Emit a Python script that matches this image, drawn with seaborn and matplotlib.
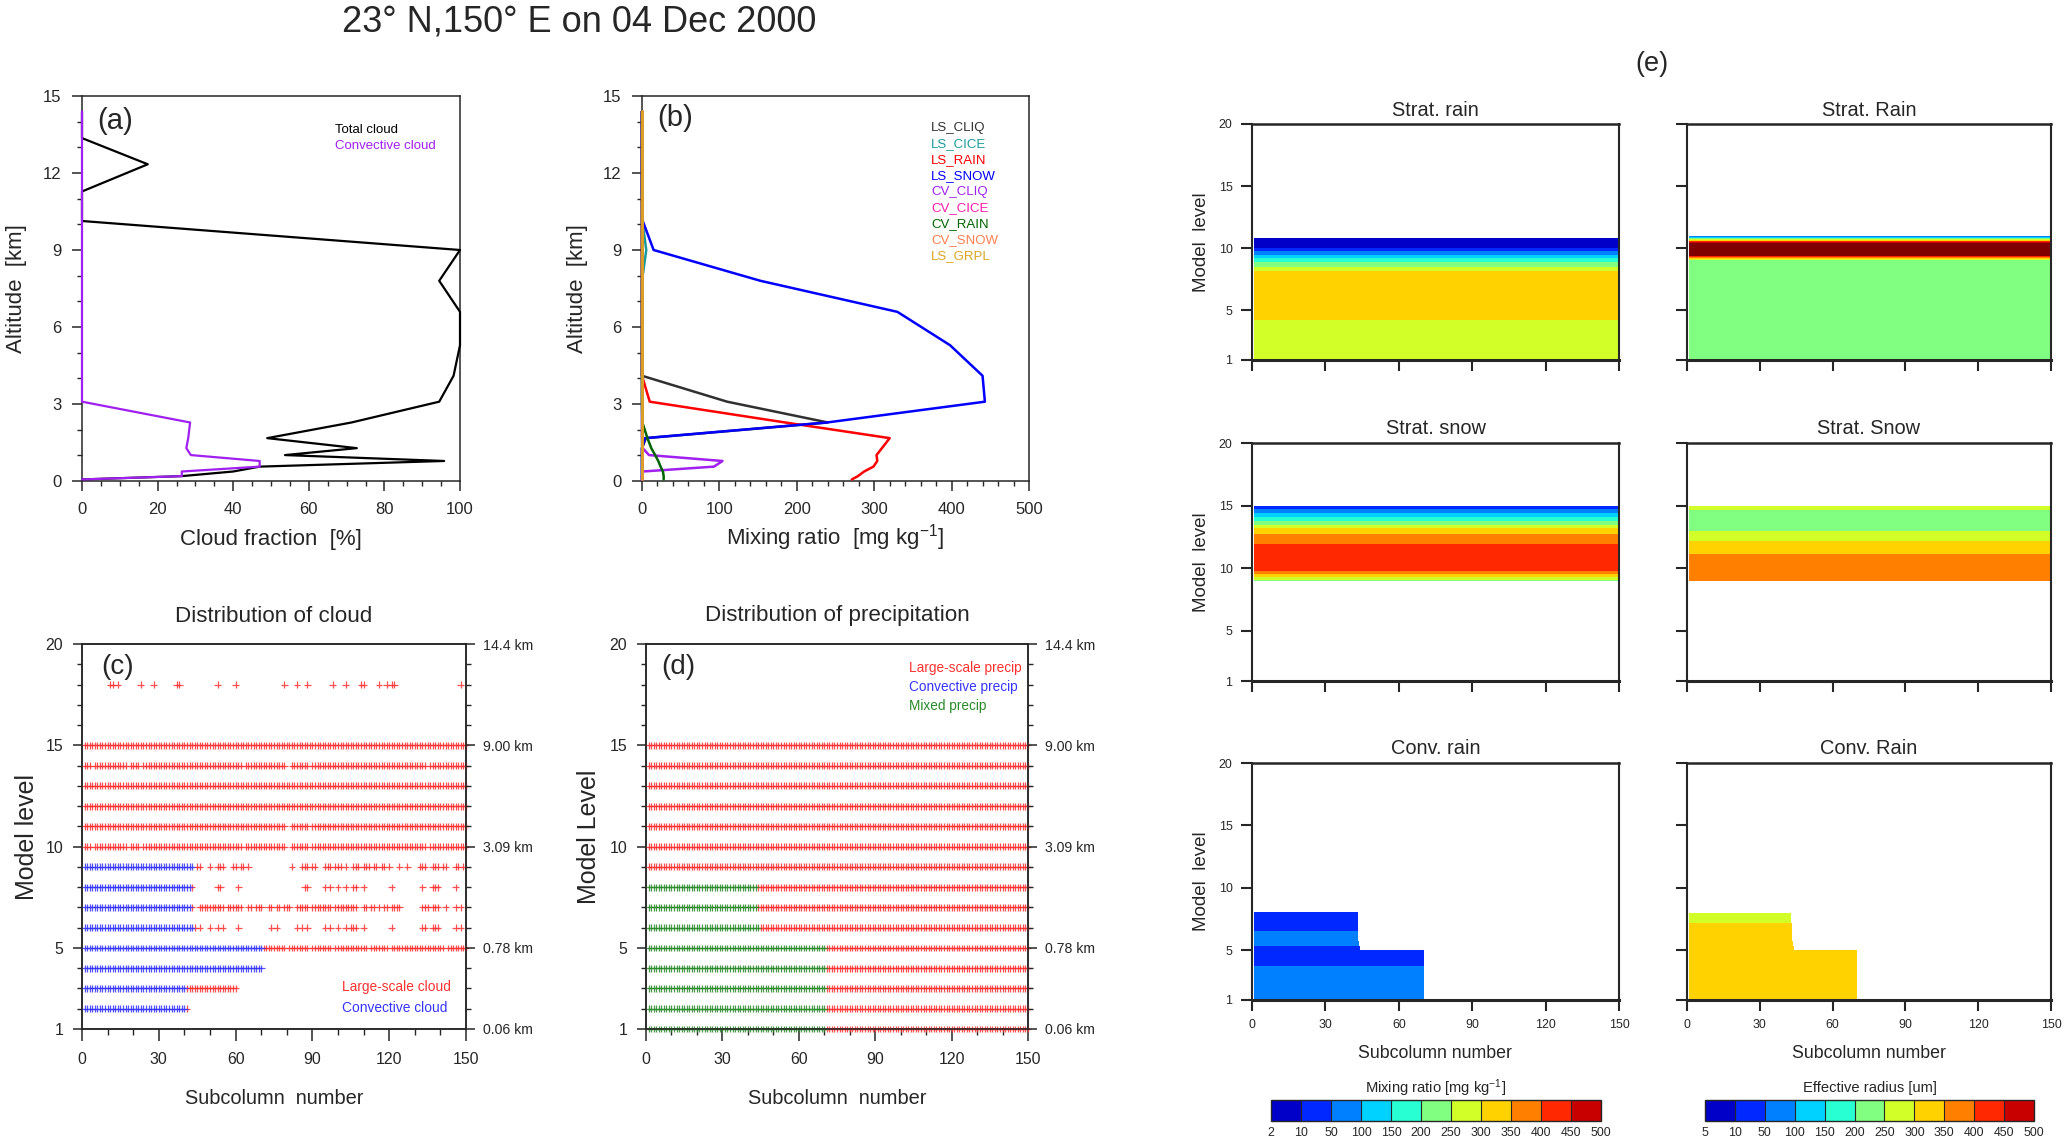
import numpy as np
import pandas as pd
import matplotlib
matplotlib.use("Agg")
import matplotlib.pyplot as plt
import seaborn as sns
from matplotlib import font_manager as fm
from matplotlib.colors import ListedColormap, BoundaryNorm
from matplotlib.cm import ScalarMappable
from matplotlib.ticker import MultipleLocator

# ------------------------------------------------------------------ data
model_level = [1, 2, 3, 4, 5, 6, 7, 8, 9, 10, 11, 12, 13, 14, 15, 16, 17, 18, 19, 20]
altitude_km = [0.06, 0.19, 0.37, 0.56, 0.78, 1.01, 1.28, 1.67, 2.28, 3.09,
               4.10, 5.29, 6.59, 7.80, 9.00, 10.13, 11.28, 12.34, 13.36, 14.40]

# (a) cloud fraction [%]
total_cloud = [0, 26.4, 40, 47, 95.8, 53.7, 72.7, 49, 71.3, 94.5,
               98.3, 100, 100, 94.5, 100, 0, 0, 17.4, 0, 0]
conv_cloud = [0, 26.4, 26.4, 47, 47, 28.8, 27.6, 28.1, 28.6, 0,
              0, 0, 0, 0, 0, 0, 0, 0, 0, 0]

# (b) grid-mean mixing ratio [mg/kg]
ls_cliq = [0, 0, 0, 0, 0, 0, 0, 5, 240, 110, 0, 0, 0, 0, 0, 0, 0, 0, 0, 0]
ls_cice = [0, 0, 0, 0, 0, 0, 0, 0, 0, 0, 0, 0, 0, 0, 5.5, 0.5, 0, 0, 0, 0]
ls_rain = [271, 279, 287, 299, 304, 303, 310, 320, 185, 10, 0, 0, 0, 0, 0, 0, 0, 0, 0, 0]
ls_snow = [0, 0, 0, 0, 0, 0, 0, 4, 239, 443, 440, 398, 330, 153, 15, 1, 0, 0, 0, 0]
cv_cliq = [0, 0, 1, 93, 104, 9, 1, 0, 0, 0, 0, 0, 0, 0, 0, 0, 0, 0, 0, 0]
cv_cice = [0, 0, 0, 0, 0, 0, 0, 0, 0, 0, 0, 0, 0, 0, 0, 0, 0, 0, 0, 0]
cv_rain = [28, 28, 27, 24, 21, 17, 12, 7, 0.5, 0, 0, 0, 0, 0, 0, 0, 0, 0, 0, 0]
cv_snow = [0, 0, 0, 0, 0, 0, 0, 0, 0, 0, 0, 0, 0, 0, 0, 0, 0, 0, 0, 0]
ls_grpl = [0, 0, 0, 0, 0, 0, 0, 0, 0, 0, 0, 0, 0, 0, 0, 0, 0, 0, 0, 0]
species_names = ["LS_CLIQ", "LS_CICE", "LS_RAIN", "LS_SNOW", "CV_CLIQ",
                 "CV_CICE", "CV_RAIN", "CV_SNOW", "LS_GRPL"]
species_colors = ["#303030", "#1a9a9a", "#ff0000", "#0000ff", "#a020f0",
                  "#ff1cae", "#006400", "#ff7f50", "#daa520"]

# (c) subcolumn cloud occupancy (runs of subcolumn numbers per model level)
conv_cloud_runs = {2: [(1, 40)], 3: [(1, 40)], 4: [(1, 70)], 5: [(1, 70)],
                   6: [(1, 43)], 7: [(1, 42)], 8: [(1, 42)], 9: [(1, 43)]}
ls_cloud_runs = {
    2: [(41, 41)],
    3: [(41, 60)],
    5: [(71, 79), (81, 88), (90, 97), (99, 111), (113, 119), (121, 141), (143, 150)],
    6: [(44, 44), (46, 46), (50, 50), (53, 53), (55, 55), (61, 61), (74, 74), (76, 76),
        (84, 84), (86, 86), (88, 88), (95, 95), (97, 97), (100, 100), (103, 103),
        (105, 107), (110, 110), (121, 121), (133, 134), (137, 139), (146, 146), (148, 148)],
    7: [(43, 43), (46, 55), (57, 62), (65, 66), (68, 70), (73, 74), (76, 77), (79, 81),
        (84, 88), (90, 97), (99, 107), (110, 111), (113, 114), (116, 116), (118, 119),
        (121, 124), (133, 135), (137, 139), (142, 142), (146, 146), (148, 148)],
    8: [(43, 43), (53, 54), (61, 61), (87, 88), (95, 95), (97, 97), (100, 100), (103, 103),
        (106, 107), (110, 110), (121, 121), (133, 133), (137, 139), (146, 146)],
    9: [(45, 46), (50, 50), (53, 55), (59, 60), (62, 63), (65, 65), (82, 82), (86, 88),
        (90, 91), (95, 97), (99, 101), (103, 103), (106, 108), (110, 112), (114, 115),
        (117, 118), (120, 120), (124, 124), (127, 127), (132, 134), (137, 139),
        (141, 142), (146, 147), (149, 149)],
    10: [(1, 3), (5, 17), (19, 22), (24, 62), (64, 79), (82, 88), (90, 134), (136, 150)],
    11: [(1, 79), (82, 88), (90, 150)],
    12: [(1, 150)],
    13: [(1, 150)],
    14: [(1, 3), (5, 17), (19, 22), (24, 62), (64, 79), (82, 88), (90, 134), (136, 150)],
    15: [(1, 150)],
    18: [(11, 12), (14, 14), (23, 23), (28, 28), (37, 38), (53, 53), (60, 60), (79, 79),
         (84, 84), (88, 88), (98, 98), (103, 103), (109, 110), (116, 116), (119, 119),
         (121, 122), (148, 148)],
}
# (d) subcolumn precipitation occupancy
mixed_precip_runs = {1: [(1, 70)], 2: [(1, 70)], 3: [(1, 70)], 4: [(1, 70)], 5: [(1, 70)],
                     6: [(1, 44)], 7: [(1, 43)], 8: [(1, 43)]}
ls_precip_runs = {1: [(71, 150)], 2: [(71, 150)], 3: [(71, 150)], 4: [(71, 150)],
                  5: [(71, 150)], 6: [(45, 150)], 7: [(44, 150)], 8: [(44, 150)],
                  9: [(1, 150)], 10: [(1, 150)], 11: [(1, 150)], 12: [(1, 150)],
                  13: [(1, 150)], 14: [(1, 150)], 15: [(1, 150)]}
right_km_labels = ["0.06 km", "0.78 km", "3.09 km", "9.00 km", "14.4 km"]
level_ticks = [1, 5, 10, 15, 20]

# (e) subcolumn fields: per-level value, number of subcolumns holding it
nan = np.nan
strat_rain_mr = [271, 279, 287, 299, 304, 303, 310, 320, 185, 10, 0, 0, 0, 0, 0, 0, 0, 0, 0, 0]
strat_rain_re = [225, 225, 225, 225, 225, 225, 225, 225, 225, 900, 6,
                 nan, nan, nan, nan, nan, nan, nan, nan, nan]
strat_snow_mr = [nan, nan, nan, nan, nan, nan, nan, nan, 235, 443, 440, 398, 330, 160, 5,
                 nan, nan, nan, nan, nan]
strat_snow_re = [nan, nan, nan, nan, nan, nan, nan, nan, 380, 380, 356, 312, 248, 225, 262,
                 nan, nan, nan, nan, nan]
conv_rain_mr = [70, 70, 60, 45, 40, 65, 35, 30, nan, nan, nan, nan, nan, nan, nan, nan, nan, nan, nan, nan]
conv_rain_re = [320, 320, 320, 320, 320, 320, 305, 255, nan, nan, nan, nan, nan, nan, nan, nan, nan, nan, nan, nan]
strat_ncol = [150, 150, 150, 150, 150, 150, 150, 150, 150, 150,
              150, 150, 150, 150, 150, 150, 150, 150, 150, 150]
conv_ncol = [70, 70, 70, 70, 70, 43, 43, 43, 0, 0, 0, 0, 0, 0, 0, 0, 0, 0, 0, 0]
n_subcol = 150
mr_bounds = [2, 10, 50, 100, 150, 200, 250, 300, 350, 400, 450, 500]
re_bounds = [5, 10, 50, 100, 150, 200, 250, 300, 350, 400, 450, 500]
cmap_colors = ["#0000c8", "#0028ff", "#0080ff", "#00d2ff", "#28ffd2", "#80ff80",
               "#d2ff28", "#ffd200", "#ff8000", "#ff2800", "#c80000"]
over_color = "#800000"

# ------------------------------------------------------------------ style
sns.set_style("ticks")
names = {f.name for f in fm.fontManager.ttflist}
NORMAL = "Liberation Sans" if "Liberation Sans" in names else "DejaVu Sans"
if "Liberation Sans Narrow" in names:
    NARROW, NS = "Liberation Sans Narrow", 1.0
else:
    NARROW, NS = NORMAL, 0.85
plt.rcParams["font.family"] = [NORMAL, "DejaVu Sans"]
plt.rcParams["mathtext.fontset"] = "custom"
plt.rcParams["mathtext.rm"] = NORMAL
plt.rcParams["mathtext.it"] = NORMAL
plt.rcParams["axes.linewidth"] = 1.1

W, H = 2067, 1142
fig = plt.figure(figsize=(W / 100, H / 100), dpi=100)


def add_ax(l, t, r, b):
    return fig.add_axes([l / W, 1 - b / H, (r - l) / W, (b - t) / H])


def ftext(x, y, s, **kw):
    return fig.text(x / W, 1 - y / H, s, **kw)


def xlabel_at(ax, s, y_px, **kw):
    ax.set_xlabel(s, **kw)
    bb = ax.get_position()
    ax.xaxis.set_label_coords(0.5, ((1 - y_px / H) - bb.y0) / bb.height)
    ax.xaxis.label.set_verticalalignment("center")


def ylabel_at(ax, s, x_px, **kw):
    ax.set_ylabel(s, **kw)
    bb = ax.get_position()
    ax.yaxis.set_label_coords((x_px / W - bb.x0) / bb.width, 0.5)
    ax.yaxis.label.set_horizontalalignment("center")
    ax.yaxis.label.set_verticalalignment("center")


def xcenter(ax):
    bb = ax.get_position()
    return (bb.x0 + bb.width / 2) * W


ftext(579, 22, "23° N,150° E on 04 Dec 2000", fontsize=26, ha="center", va="center")

# ------------------------------------------------------------------ (a)
ax_a = add_ax(82, 96, 460, 481)
sns.lineplot(x=total_cloud, y=altitude_km, sort=False, estimator=None, color="black",
             lw=1.6, ax=ax_a, clip_on=False, zorder=3)
sns.lineplot(x=conv_cloud, y=altitude_km, sort=False, estimator=None, color="#a020f0",
             lw=1.6, ax=ax_a, clip_on=False, zorder=3)
ax_a.set_xlim(0, 100)
ax_a.set_ylim(0, 15)
ax_a.set_xticks([0, 20, 40, 60, 80, 100])
ax_a.set_yticks([0, 3, 6, 9, 12, 15])
ax_a.xaxis.set_minor_locator(MultipleLocator(5))
ax_a.yaxis.set_minor_locator(MultipleLocator(1))
xlabel_at(ax_a, "Cloud fraction  [%]", 539, fontsize=16)
ylabel_at(ax_a, "Altitude  [km]", 17, fontsize=16)
ftext(97, 121, "(a)", fontsize=21, ha="left", va="center")
ftext(335, 130, "Total cloud", fontsize=9.5, color="black", ha="left", va="center")
ftext(335, 146, "Convective cloud", fontsize=9.5, color="#a020f0", ha="left", va="center")

# ------------------------------------------------------------------ (b)
ax_b = add_ax(642, 96, 1029, 481)
for vals, col in zip([ls_cliq, ls_cice, ls_rain, ls_snow, cv_cliq, cv_cice, cv_rain, cv_snow, ls_grpl],
                     species_colors):
    sns.lineplot(x=vals, y=altitude_km, sort=False, estimator=None, color=col, lw=1.8,
                 ax=ax_b, clip_on=False, zorder=3)
ax_b.set_xlim(0, 500)
ax_b.set_ylim(0, 15)
ax_b.set_xticks([0, 100, 200, 300, 400, 500])
ax_b.set_yticks([0, 3, 6, 9, 12, 15])
ax_b.xaxis.set_minor_locator(MultipleLocator(20))
ax_b.yaxis.set_minor_locator(MultipleLocator(1))
xlabel_at(ax_b, r"Mixing ratio  [mg kg$^{-1}$]", 538, fontsize=16)
ylabel_at(ax_b, "Altitude  [km]", 577, fontsize=16)
ftext(657, 118, "(b)", fontsize=21, ha="left", va="center")
for i, (nm, col) in enumerate(zip(species_names, species_colors)):
    ftext(931, 128 + 16 * i, nm, fontsize=9.5, color=col, ha="left", va="center")

for ax in (ax_a, ax_b):
    ax.tick_params(which="major", direction="out", length=7, width=1.1, labelsize=12, pad=8)
    ax.tick_params(which="minor", direction="out", length=3.5, width=1.0)
    ax.tick_params(top=False, right=False, which="both")


# ------------------------------------------------------------------ (c), (d)
def runs_to_frame(run_dict, kind):
    rows = []
    for lev, runs in run_dict.items():
        for a, b in runs:
            for sc in range(a, b + 1):
                rows.append((sc, lev, kind))
    return pd.DataFrame(rows, columns=["subcolumn", "level", "kind"])


def style_dist(ax, ylab, ylab_x, title, label, label_x):
    ax.set_xlim(0, 150)
    ax.set_ylim(1, 20)
    ax.set_xticks([0, 30, 60, 90, 120, 150])
    ax.set_xticklabels(["0", "30", "60", "90", "120", "150"], fontfamily=NARROW, fontsize=13.5 * NS)
    ax.set_yticks(level_ticks)
    ax.set_yticklabels([str(v) for v in level_ticks], fontfamily=NARROW, fontsize=13.5 * NS)
    ax.xaxis.set_minor_locator(MultipleLocator(10))
    ax.yaxis.set_minor_locator(MultipleLocator(1))
    ax.tick_params(axis="x", which="major", direction="out", length=8.5, width=1.1, pad=8)
    ax.tick_params(axis="x", which="minor", direction="out", length=4.5, width=1.0)
    ax.tick_params(axis="y", which="major", direction="out", length=6.5, width=1.1, pad=7)
    ax.tick_params(axis="y", which="minor", direction="out", length=3.5, width=1.0)
    ax2 = ax.twinx()
    ax2.set_ylim(1, 20)
    ax2.set_yticks(level_ticks)
    ax2.set_yticklabels(right_km_labels, fontfamily=NARROW, fontsize=12 * NS)
    ax2.yaxis.set_minor_locator(MultipleLocator(1))
    ax2.tick_params(axis="y", which="major", direction="out", length=6.5, width=1.1, pad=6)
    ax2.tick_params(axis="y", which="minor", direction="out", length=3.5, width=1.0)
    xlabel_at(ax, "Subcolumn  number", 1098, fontsize=17 * NS, fontfamily=NARROW)
    ylabel_at(ax, ylab, ylab_x, fontsize=18)
    ftext(xcenter(ax), 616, title, fontsize=19 * NS, fontfamily=NARROW, ha="center", va="center")
    ftext(label_x, 667, label, fontsize=20, ha="left", va="center")


RED, BLUE, GREEN = "#ff3030", "#3535ff", "#2a8a2a"

ax_c = add_ax(82, 644, 466, 1029)
df_c = pd.concat([runs_to_frame(ls_cloud_runs, "Large-scale cloud"),
                  runs_to_frame(conv_cloud_runs, "Convective cloud")], ignore_index=True)
sns.scatterplot(data=df_c, x="subcolumn", y="level", hue="kind",
                palette={"Large-scale cloud": RED, "Convective cloud": BLUE},
                marker="+", s=24, linewidth=0.9, alpha=0.85, legend=False, ax=ax_c,
                clip_on=False, zorder=3)
style_dist(ax_c, "Model level", 27, "Distribution of cloud", "(c)", 101)
ftext(342, 987, "Large-scale cloud", color=RED, fontsize=11.7 * NS, fontfamily=NARROW, ha="left", va="center")
ftext(342, 1008, "Convective cloud", color=BLUE, fontsize=11.7 * NS, fontfamily=NARROW, ha="left", va="center")

ax_d = add_ax(646, 644, 1028, 1029)
df_d = pd.concat([runs_to_frame(ls_precip_runs, "Large-scale precip"),
                  runs_to_frame(mixed_precip_runs, "Mixed precip")], ignore_index=True)
sns.scatterplot(data=df_d, x="subcolumn", y="level", hue="kind",
                palette={"Large-scale precip": RED, "Mixed precip": GREEN},
                marker="+", s=24, linewidth=0.9, alpha=0.85, legend=False, ax=ax_d,
                clip_on=False, zorder=3)
style_dist(ax_d, "Model Level", 589, "Distribution of precipitation", "(d)", 661)
ftext(909, 668, "Large-scale precip", color=RED, fontsize=11.5 * NS, fontfamily=NARROW, ha="left", va="center")
ftext(909, 687, "Convective precip", color=BLUE, fontsize=11.5 * NS, fontfamily=NARROW, ha="left", va="center")
ftext(909, 706, "Mixed precip", color=GREEN, fontsize=11.5 * NS, fontfamily=NARROW, ha="left", va="center")

# ------------------------------------------------------------------ (e)
ftext(1652, 64, "(e)", fontsize=23 * NS, fontfamily=NARROW, ha="center", va="center")
cmap = ListedColormap(cmap_colors)
cmap.set_over(over_color)
subcols = np.arange(1, n_subcol + 1)
X, Y = np.meshgrid(subcols, model_level)


def field(profile, ncol):
    Z = np.full((len(model_level), n_subcol), np.nan)
    for k, (v, n) in enumerate(zip(profile, ncol)):
        Z[k, :n] = v
    return np.ma.masked_invalid(Z)


panels = [
    ((1252, 124, 1619, 360), "Strat. rain", strat_rain_mr, strat_ncol, mr_bounds, 110, True, False),
    ((1687, 124, 2051, 360), "Strat. Rain", strat_rain_re, strat_ncol, re_bounds, 110, False, False),
    ((1252, 443, 1619, 681), "Strat. snow", strat_snow_mr, strat_ncol, mr_bounds, 428, True, False),
    ((1687, 443, 2051, 681), "Strat. Snow", strat_snow_re, strat_ncol, re_bounds, 428, False, False),
    ((1252, 763, 1619, 1000), "Conv. rain", conv_rain_mr, conv_ncol, mr_bounds, 748, True, True),
    ((1687, 763, 2051, 1000), "Conv. Rain", conv_rain_re, conv_ncol, re_bounds, 748, False, True),
]
for (box, title, prof, ncol, bounds, ty, left, bottom) in panels:
    ax = add_ax(*box)
    norm = BoundaryNorm(bounds, len(cmap_colors))
    ax.contourf(X, Y, field(prof, ncol), levels=bounds, cmap=cmap, norm=norm, extend="max")
    ax.set_xlim(0, 150)
    ax.set_ylim(1, 20)
    ax.set_xticks([0, 30, 60, 90, 120, 150])
    ax.set_yticks(level_ticks)
    if bottom:
        ax.set_xticklabels(["0", "30", "60", "90", "120", "150"], fontfamily=NARROW, fontsize=10.5 * NS)
        xlabel_at(ax, "Subcolumn number", 1053, fontsize=15 * NS, fontfamily=NARROW)
    else:
        ax.set_xticklabels([])
    if left:
        ax.set_yticklabels([str(v) for v in level_ticks], fontfamily=NARROW, fontsize=10.5 * NS)
        ylabel_at(ax, "Model  level", 1201, fontsize=13.5)
    else:
        ax.set_yticklabels([])
    ax.tick_params(direction="out", length=8, width=1.5, pad=6)
    for sp in ax.spines.values():
        sp.set_linewidth(1.5)
    ax.spines["bottom"].set_linewidth(2.2)
    ax.spines["top"].set_linewidth(1.8)
    ftext(xcenter(ax), ty, title, fontsize=17 * NS, fontfamily=NARROW, ha="center", va="center")

for (l, r, bounds, lab) in [(1271, 1601, mr_bounds, r"Mixing ratio [mg kg$^{-1}$]"),
                            (1705, 2034, re_bounds, "Effective radius [um]")]:
    cax = add_ax(l, 1100, r, 1121)
    sm = ScalarMappable(norm=BoundaryNorm(bounds, len(cmap_colors)), cmap=ListedColormap(cmap_colors))
    cb = fig.colorbar(sm, cax=cax, orientation="horizontal", ticks=bounds, drawedges=True)
    cb.set_ticks(bounds, labels=[str(b) for b in bounds], fontfamily=NARROW, fontsize=10.5 * NS)
    cb.outline.set_linewidth(1.0)
    cb.dividers.set_linewidth(0.8)
    cax.tick_params(length=0, pad=4)
    ftext((l + r) / 2, 1088, lab, fontsize=12.5 * NS, fontfamily=NARROW, ha="center", va="center")

fig.savefig("out.png", dpi=100)
